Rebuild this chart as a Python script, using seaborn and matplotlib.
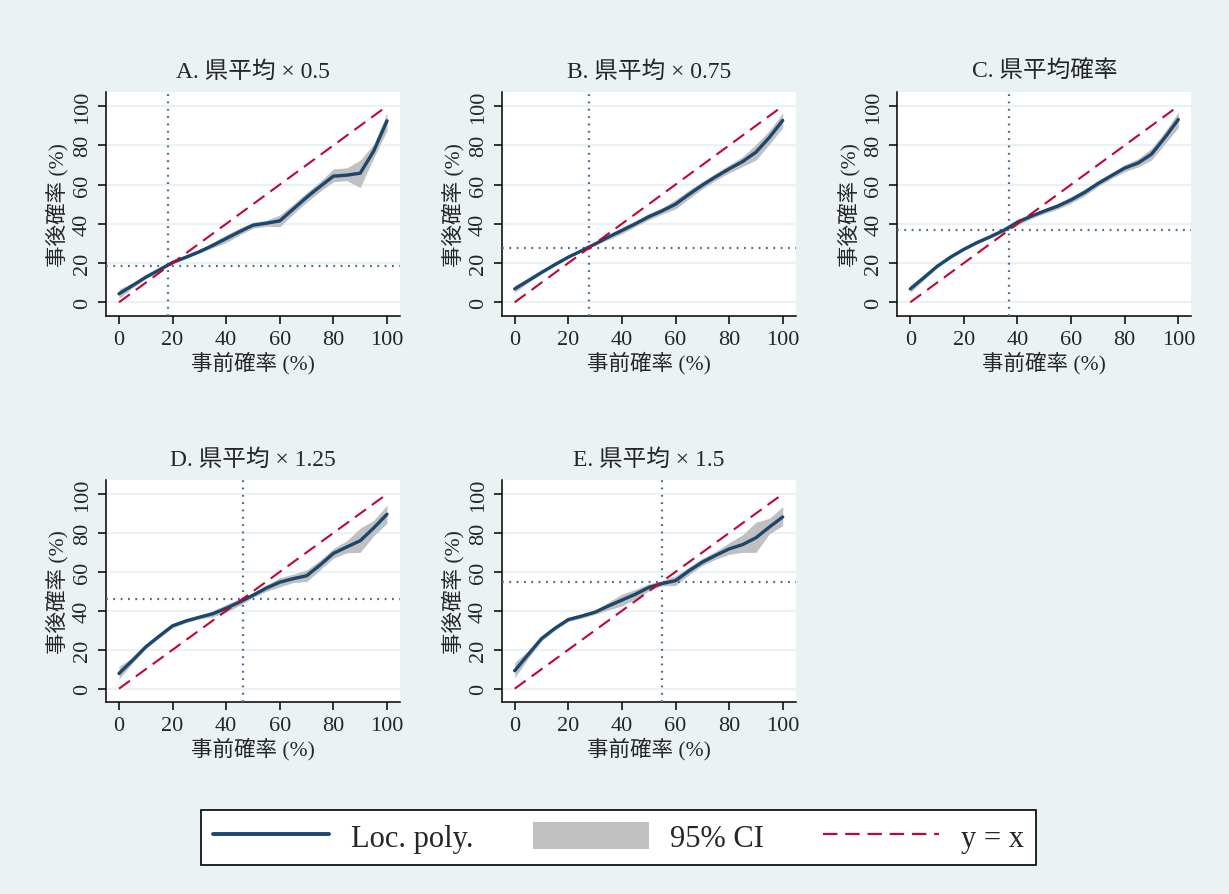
import numpy as np
import pandas as pd
import matplotlib
matplotlib.use("Agg")
import matplotlib.pyplot as plt
from matplotlib.patches import Patch
from matplotlib.lines import Line2D
import seaborn as sns

# grid of prior probabilities (%)
x_grid = [0, 5, 10, 15, 20, 25, 30, 35, 40, 45, 50, 55, 60, 65, 70, 75, 80, 85, 90, 95, 100]

titles = ["A. 県平均 × 0.5", "B. 県平均 × 0.75", "C. 県平均確率", "D. 県平均 × 1.25", "E. 県平均 × 1.5"]
ref_vals = [18.4, 27.7, 36.8, 46.2, 55.0]

a_fit = [4.3, 8.5, 12.8, 16.5, 20.3, 23.0, 25.8, 29.0, 32.5, 36.0, 39.3, 40.3, 41.5, 47.5, 53.5, 59.0, 64.3, 64.8, 65.8, 77.0, 92.5]
a_lo = [2.0, 7.3, 12.0, 15.8, 19.6, 22.3, 25.0, 27.8, 30.5, 34.3, 37.8, 38.8, 38.5, 45.0, 51.0, 56.5, 61.5, 62.0, 58.5, 73.5, 87.5]
a_hi = [6.8, 9.8, 13.6, 17.2, 21.0, 23.7, 26.6, 30.5, 34.5, 37.8, 40.8, 41.8, 44.5, 50.0, 56.0, 61.5, 68.0, 68.5, 72.5, 80.5, 96.5]

b_fit = [6.8, 11.0, 15.2, 19.2, 23.0, 26.3, 29.7, 33.3, 36.6, 40.0, 43.6, 46.6, 50.0, 55.0, 59.7, 64.0, 68.0, 71.7, 76.5, 84.0, 92.7]
b_lo = [5.0, 10.0, 14.5, 18.6, 22.5, 25.8, 29.2, 32.0, 35.0, 38.6, 42.0, 45.0, 47.6, 52.8, 57.8, 62.2, 66.0, 69.2, 72.5, 80.5, 89.0]
b_hi = [8.6, 12.0, 15.9, 19.8, 23.5, 26.8, 30.2, 34.6, 38.2, 41.4, 45.2, 48.2, 52.4, 57.2, 61.6, 65.8, 70.0, 74.2, 80.5, 87.5, 96.5]

c_fit = [6.8, 12.5, 18.3, 23.0, 27.0, 30.5, 33.5, 36.8, 40.8, 43.8, 46.5, 49.0, 52.2, 56.0, 60.5, 64.5, 68.4, 71.0, 75.5, 84.0, 93.2]
c_lo = [5.0, 11.3, 17.5, 22.3, 26.4, 29.9, 32.9, 35.8, 39.3, 42.6, 45.2, 47.5, 50.5, 54.3, 59.0, 63.0, 66.6, 69.0, 72.5, 80.8, 89.0]
c_hi = [8.6, 13.7, 19.1, 23.7, 27.6, 31.1, 34.1, 37.8, 42.6, 45.0, 47.8, 50.5, 53.9, 57.7, 62.0, 66.0, 70.2, 73.2, 78.5, 87.0, 97.0]

d_fit = [7.8, 14.5, 21.5, 27.0, 32.3, 34.8, 36.7, 38.5, 41.3, 44.5, 48.0, 51.7, 54.7, 56.5, 58.0, 63.5, 69.5, 72.8, 76.0, 82.5, 89.6]
d_lo = [5.0, 13.0, 20.5, 26.0, 31.3, 33.8, 35.8, 37.0, 39.3, 42.8, 46.8, 50.0, 52.3, 54.5, 55.0, 61.0, 67.0, 69.8, 70.0, 78.5, 85.0]
d_hi = [11.5, 16.0, 22.5, 28.0, 33.3, 35.8, 37.6, 40.0, 43.3, 46.2, 49.2, 53.4, 57.0, 58.8, 61.0, 66.0, 72.0, 76.0, 82.5, 86.5, 94.2]

e_fit = [9.2, 17.5, 25.7, 31.0, 35.5, 37.3, 39.3, 42.5, 45.5, 48.5, 52.0, 54.0, 55.5, 60.5, 65.0, 68.5, 71.8, 74.0, 77.5, 83.0, 88.2]
e_lo = [5.5, 15.5, 24.5, 30.0, 34.5, 36.2, 38.2, 40.5, 42.5, 46.0, 50.3, 52.8, 53.0, 58.5, 63.3, 66.5, 69.0, 70.0, 70.0, 79.5, 83.8]
e_hi = [13.5, 19.5, 27.0, 32.0, 36.6, 38.4, 40.4, 44.5, 48.5, 51.0, 53.8, 55.5, 58.0, 62.5, 67.0, 70.5, 75.0, 79.0, 85.5, 87.5, 93.5]

fits = [a_fit, b_fit, c_fit, d_fit, e_fit]
los = [a_lo, b_lo, c_lo, d_lo, e_lo]
his = [a_hi, b_hi, c_hi, d_hi, e_hi]

BG = "#EAF2F3"
NAVY = "#1a476f"
RED = "#c10534"
GRAY = "#c0c0c0"
REF = "#4a6888"

sns.set_style("white")
plt.rcParams["font.family"] = ["Liberation Serif", "Noto Sans CJK JP"]

fig = plt.figure(figsize=(12.29, 8.95), dpi=100, facecolor=BG)

W, H = 1229, 895
lefts = [106, 501.7, 897.3, 106, 501.7]
tops = [93, 93, 93, 481, 481]
bottoms = [317, 317, 317, 703.3, 703.3]
aw = 294

for i in range(5):
    ax = fig.add_axes([lefts[i] / W, 1 - bottoms[i] / H, aw / W, (bottoms[i] - tops[i]) / H])
    ax.set_facecolor("white")
    df = pd.DataFrame({"x": x_grid, "fit": fits[i], "lo": los[i], "hi": his[i]})
    ax.fill_between(df["x"], df["lo"], df["hi"], color=GRAY, lw=0, zorder=2)
    sns.lineplot(data=df, x="x", y="fit", ax=ax, color=NAVY, lw=2.4, zorder=4)
    ax.plot([0, 100], [0, 100], color=RED, lw=1.5, ls=(0, (6.5, 3.5)), zorder=5)
    ax.axvline(ref_vals[i], color=REF, lw=1.6, ls=(0, (0.8, 2.5)), zorder=3)
    ax.axhline(ref_vals[i], color=REF, lw=1.6, ls=(0, (0.8, 2.5)), zorder=3)

    ax.set_xlim(-4.85, 104.85)
    ax.set_ylim(-7, 107.2)
    ax.set_xticks(range(0, 101, 20))
    ax.set_yticks(range(0, 101, 20))
    ax.yaxis.grid(True, color=BG, lw=1.6, zorder=0)
    ax.set_axisbelow(True)
    for s in ["top", "right"]:
        ax.spines[s].set_visible(False)
    for s in ["left", "bottom"]:
        ax.spines[s].set_color("black")
        ax.spines[s].set_linewidth(1.1)
    ax.tick_params(axis="both", direction="out", length=6, width=1.1, color="black",
                   labelsize=16, pad=4, bottom=True, left=True)
    plt.setp(ax.get_yticklabels(), rotation=90, va="center")
    ax.set_xlabel("事前確率 (%)", fontsize=15.5, labelpad=1)
    ax.set_ylabel("事後確率 (%)", fontsize=15.5, labelpad=3)
    ax.set_title(titles[i], fontsize=17, pad=11)

handles = [
    Line2D([], [], color=NAVY, lw=2.8),
    Patch(facecolor=GRAY, edgecolor="none"),
    Line2D([], [], color=RED, lw=1.6, ls=(0, (6.5, 3.5))),
]
labels = ["Loc. poly.", "95% CI", "y = x"]
leg = fig.legend(handles, labels, ncol=3, loc="center",
                 bbox_to_anchor=(201 / W, 1 - 866 / H, 835 / W, 55 / H),
                 mode="expand", borderaxespad=0, fontsize=22, handlelength=3.8,
                 handleheight=1.0, handletextpad=0.7, fancybox=False,
                 framealpha=1, edgecolor="black", facecolor="white")
leg.get_frame().set_linewidth(1.2)

fig.savefig("out.png", dpi=100, facecolor=BG)
